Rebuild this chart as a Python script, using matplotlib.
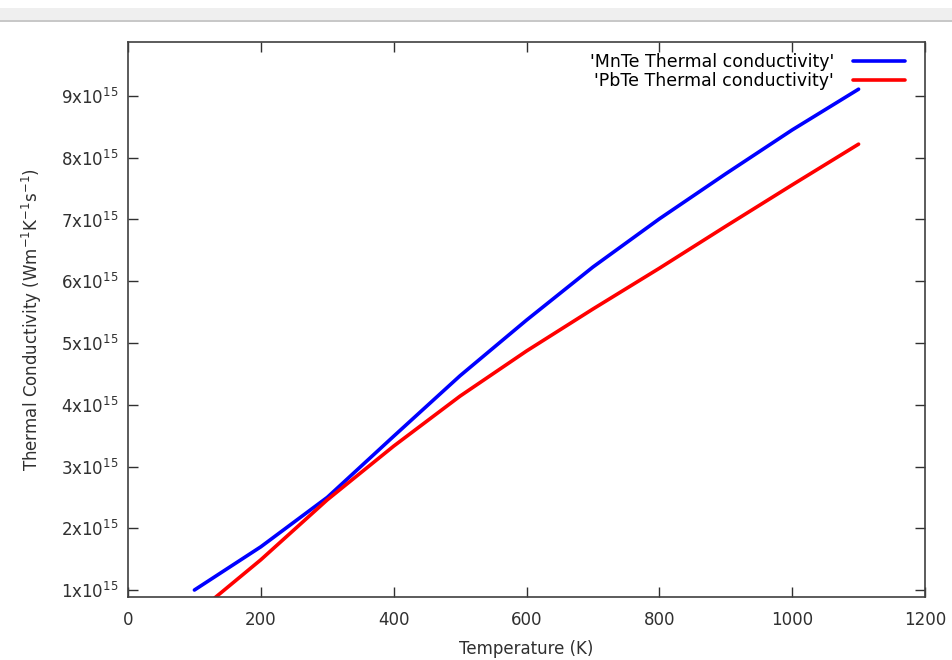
import numpy as np
import matplotlib
matplotlib.use("Agg")
import matplotlib.pyplot as plt
from matplotlib.patches import Rectangle

# temperature (K) and thermal conductivity (x1e15)
temp = [100, 200, 300, 400, 500, 600, 700, 800, 900, 1000, 1100]
mnte = [1.00, 1.70, 2.50, 3.49, 4.47, 5.37, 6.23, 7.01, 7.74, 8.45, 9.11]
pbte = [0.60, 1.49, 2.46, 3.33, 4.14, 4.87, 5.55, 6.21, 6.89, 7.56, 8.22]

yticks = [1, 2, 3, 4, 5, 6, 7, 8, 9]
xticks = [0, 200, 400, 600, 800, 1000, 1200]

plt.rcParams['font.family'] = 'DejaVu Sans'
fig = plt.figure(figsize=(9.52, 6.60), dpi=100)

# screenshot strip at the top
fig.patches.append(Rectangle((0, 1 - 20/660), 1, 12/660, transform=fig.transFigure,
                             facecolor='#efefef', edgecolor='none'))
fig.patches.append(Rectangle((0, 1 - 22/660), 1, 2/660, transform=fig.transFigure,
                             facecolor='#c8c8c8', edgecolor='none'))

ax = fig.add_axes([128/952, 63/660, 797/952, 555/660])
ax.plot(temp, mnte, color='#0000ff', lw=2.6, solid_capstyle='round',
        label="'MnTe Thermal conductivity'")
ax.plot(temp, pbte, color='#ff0000', lw=2.6, solid_capstyle='round',
        label="'PbTe Thermal conductivity'")

ax.set_xlim(0, 1200)
ax.set_ylim(0.887, 9.874)
ax.set_xticks(xticks)
ax.set_xticklabels([str(t) for t in xticks])
ax.set_yticks(yticks)
ax.set_yticklabels([f"{v}x10$^{{15}}$" for v in yticks])

ax.tick_params(direction='in', length=7, width=1, top=True, right=True,
               labelsize=12, colors='#303030')
ax.tick_params(axis='x', pad=10)
ax.tick_params(axis='y', pad=7)
for s in ax.spines.values():
    s.set_color('#404040')
    s.set_linewidth(1.2)

ax.set_xlabel("Temperature (K)", fontsize=12, color='#303030', labelpad=8)
ax.set_ylabel("Thermal Conductivity (Wm$^{-1}$K$^{-1}$s$^{-1}$)", fontsize=12,
              color='#303030', labelpad=12)

ax.legend(loc='upper right', frameon=False, markerfirst=False, fontsize=12.5,
          handlelength=3.0, handletextpad=1.1, labelspacing=0.05,
          borderaxespad=0.6, borderpad=0.3, bbox_to_anchor=(0.995, 1.008))

fig.savefig("out.png", dpi=100)
